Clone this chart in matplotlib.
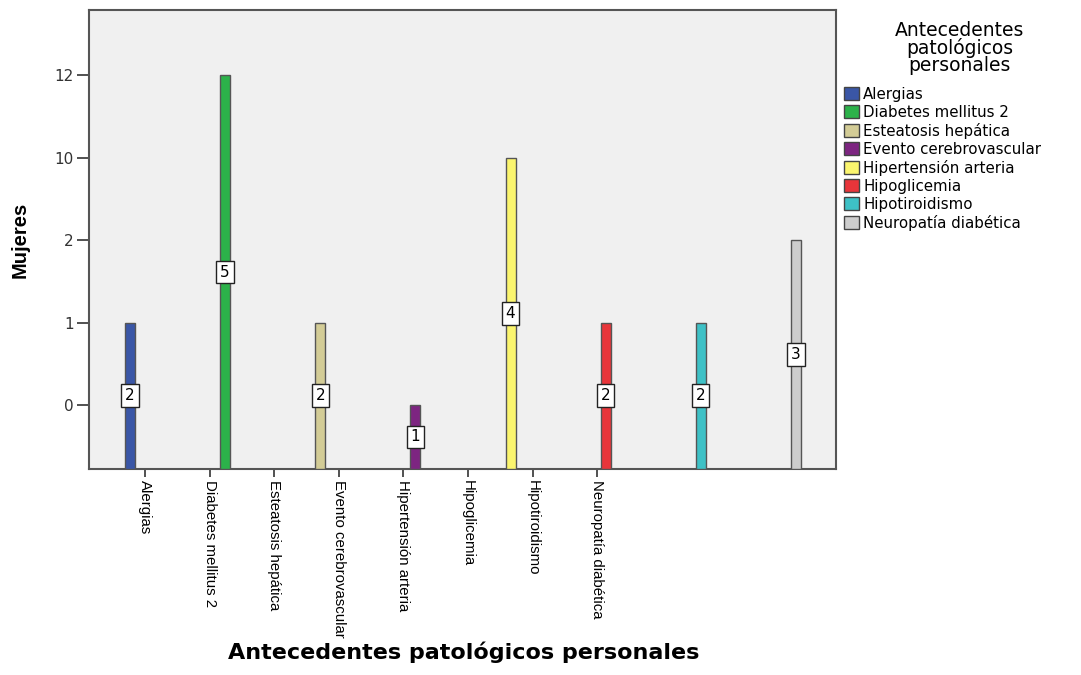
import numpy as np
import matplotlib
matplotlib.use("Agg")
from matplotlib import pyplot as plt
from matplotlib.patches import Patch

# categories on the x axis (one coloured bar per category)
categories = [
    "Alergias",
    "Diabetes mellitus 2",
    "Esteatosis hepática",
    "Evento cerebrovascular",
    "Hipertensión arteria",
    "Hipoglicemia",
    "Hipotiroidismo",
    "Neuropatía diabética",
]
# y axis is categorical in the original (SPSS) chart
y_levels = ["0", "1", "2", "10", "12"]
bar_value = ["1", "12", "1", "0", "10", "1", "1", "2"]
counts = [2, 5, 2, 1, 4, 2, 2, 3]

colors = ["#3a56a6", "#2cb24a", "#d3cc96", "#7d2581", "#fbf56e",
          "#e8353a", "#3ec1c6", "#cdcdcd"]

fig = plt.figure(figsize=(10.81, 6.75), dpi=100)
ax = fig.add_axes([0.0823, 0.3052, 0.691, 0.68])
ax.set_facecolor("#f0f0f0")

ybot = -0.776
x = np.arange(len(categories))
tops = np.array([y_levels.index(v) for v in bar_value], dtype=float)

ax.bar(x, tops - ybot, bottom=ybot, width=0.105, color=colors,
       edgecolor="#555555", linewidth=1.0, zorder=3)

for xi, t, c in zip(x, tops, counts):
    ax.text(xi, (t + ybot) / 2, str(c), ha="center", va="center",
            fontsize=11, family="DejaVu Sans", zorder=4,
            bbox=dict(boxstyle="square,pad=0.25", fc="white", ec="#222222", lw=1.0))

ax.set_xlim(-0.43, 7.42)
ax.set_ylim(ybot, 4.79)

ax.set_yticks(range(len(y_levels)))
ax.set_yticklabels(y_levels, fontsize=11, color="#333333")
ax.tick_params(axis="y", length=9, width=1.2, color="#333333", pad=2)

xt = np.linspace(0.16, 4.91, len(categories))
ax.set_xticks(xt)
ax.set_xticklabels(categories, rotation=270, ha="center", va="top",
                   fontsize=10.8, family=["Liberation Sans Narrow", "Liberation Sans", "DejaVu Sans"])
ax.tick_params(axis="x", length=6, width=1.2, color="#333333", pad=2)

for s in ax.spines.values():
    s.set_color("#555555")
    s.set_linewidth(1.5)

ax.set_ylabel("Mujeres", fontsize=14.5, fontweight="bold",
              family=["Liberation Sans", "DejaVu Sans"], labelpad=18)
fig.text(0.429, 0.018, "Antecedentes patológicos personales", ha="center",
         va="bottom", fontsize=16, fontweight="bold", family="DejaVu Sans")

# legend title drawn separately so its gap to the entries matches
fig.text(0.888, 0.969, "Antecedentes\npatológicos\npersonales", ha="center",
         va="top", fontsize=13.5, family="DejaVu Sans", linespacing=0.88)

handles = [Patch(facecolor=c, edgecolor="#444444", lw=1.0) for c in colors]
leg = fig.legend(handles, categories, loc="upper left",
                 bbox_to_anchor=(0.772, 0.885), frameon=False,
                 prop=dict(family="DejaVu Sans", size=10.8),
                 handlelength=1.0, handleheight=1.0, handletextpad=0.3,
                 labelspacing=0.2, borderaxespad=0.2)

fig.savefig("out.png", dpi=100)
